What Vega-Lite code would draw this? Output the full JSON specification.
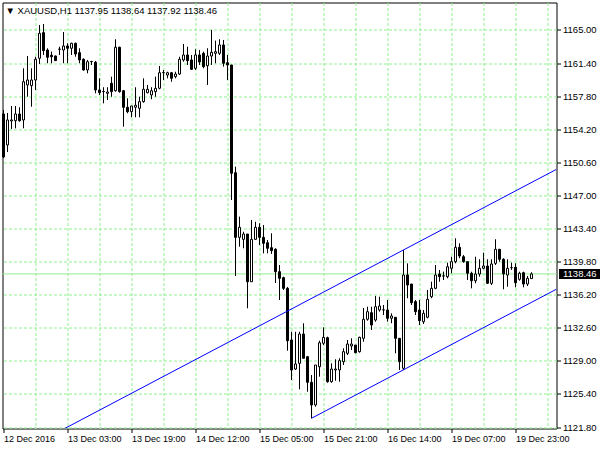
{
"$schema": "https://vega.github.io/schema/vega-lite/v6.json",
"width": 554, "height": 426,
"autosize": {"type": "none"},
"padding": {"left": 2.5, "top": 2.5, "right": 43.5, "bottom": 21.5},
"background": "white",
"title": {"text": "▼  XAUUSD,H1 1137.95 1138.64 1137.92 1138.46", "anchor": "start", "frame": "group", "orient": "top", "baseline": "top", "offset": -13, "dx": 3, "font": "Liberation Sans", "fontSize": 9.5, "fontWeight": "normal", "color": "black"},
"datasets": {
"candles": [
{"i":0,"o":1155.86,"h":1156.29,"l":1151.07,"c":1151.18},
{"i":1,"o":1152.49,"h":1155.97,"l":1151.72,"c":1155.21},
{"i":2,"o":1155.10,"h":1156.73,"l":1154.23,"c":1155.21},
{"i":3,"o":1155.13,"h":1156.73,"l":1154.30,"c":1155.86},
{"i":4,"o":1155.86,"h":1156.59,"l":1155.02,"c":1155.13},
{"i":5,"o":1155.21,"h":1160.83,"l":1154.30,"c":1159.37},
{"i":6,"o":1159.02,"h":1162.17,"l":1157.74,"c":1159.56},
{"i":7,"o":1158.94,"h":1160.83,"l":1156.65,"c":1159.56},
{"i":8,"o":1159.56,"h":1162.09,"l":1158.47,"c":1161.81},
{"i":9,"o":1161.92,"h":1165.54,"l":1161.30,"c":1164.64},
{"i":10,"o":1164.71,"h":1165.65,"l":1162.28,"c":1162.75},
{"i":11,"o":1162.82,"h":1163.01,"l":1161.38,"c":1162.03},
{"i":12,"o":1162.25,"h":1162.64,"l":1161.38,"c":1162.09},
{"i":13,"o":1162.17,"h":1162.22,"l":1161.63,"c":1161.66},
{"i":14,"o":1162.90,"h":1163.18,"l":1162.28,"c":1162.92},
{"i":15,"o":1162.82,"h":1164.78,"l":1161.38,"c":1163.26},
{"i":16,"o":1163.26,"h":1163.55,"l":1161.38,"c":1163.01},
{"i":17,"o":1163.01,"h":1163.62,"l":1162.28,"c":1163.55},
{"i":18,"o":1163.55,"h":1163.62,"l":1162.09,"c":1162.39},
{"i":19,"o":1162.53,"h":1163.01,"l":1161.38,"c":1161.74},
{"i":20,"o":1161.81,"h":1161.92,"l":1160.57,"c":1160.65},
{"i":21,"o":1160.65,"h":1161.74,"l":1160.29,"c":1161.55},
{"i":22,"o":1161.55,"h":1161.63,"l":1161.19,"c":1161.58},
{"i":23,"o":1161.49,"h":1161.63,"l":1158.11,"c":1158.47},
{"i":24,"o":1158.47,"h":1159.74,"l":1157.93,"c":1158.18},
{"i":25,"o":1158.29,"h":1158.77,"l":1157.02,"c":1158.31},
{"i":26,"o":1158.11,"h":1158.77,"l":1157.38,"c":1158.25},
{"i":27,"o":1159.20,"h":1159.92,"l":1157.74,"c":1158.29},
{"i":28,"o":1158.39,"h":1163.99,"l":1158.29,"c":1163.12},
{"i":29,"o":1163.12,"h":1163.18,"l":1158.18,"c":1158.29},
{"i":30,"o":1158.39,"h":1158.47,"l":1154.48,"c":1156.59},
{"i":31,"o":1156.59,"h":1157.57,"l":1155.94,"c":1156.11},
{"i":32,"o":1156.11,"h":1156.73,"l":1155.50,"c":1156.73},
{"i":33,"o":1156.59,"h":1158.77,"l":1155.50,"c":1156.81},
{"i":34,"o":1156.48,"h":1157.74,"l":1155.50,"c":1157.20},
{"i":35,"o":1157.20,"h":1159.74,"l":1157.09,"c":1158.55},
{"i":36,"o":1158.18,"h":1159.02,"l":1158.11,"c":1158.55},
{"i":37,"o":1157.93,"h":1158.77,"l":1157.46,"c":1158.39},
{"i":38,"o":1158.29,"h":1159.92,"l":1157.74,"c":1158.66},
{"i":39,"o":1158.66,"h":1161.08,"l":1158.55,"c":1160.35},
{"i":40,"o":1160.35,"h":1160.65,"l":1159.56,"c":1160.37},
{"i":41,"o":1160.10,"h":1160.46,"l":1159.74,"c":1160.35},
{"i":42,"o":1160.35,"h":1160.43,"l":1159.37,"c":1159.74},
{"i":43,"o":1159.92,"h":1160.46,"l":1159.74,"c":1160.21},
{"i":44,"o":1160.21,"h":1162.09,"l":1160.10,"c":1161.81},
{"i":45,"o":1161.74,"h":1163.48,"l":1161.55,"c":1162.28},
{"i":46,"o":1162.28,"h":1163.18,"l":1161.19,"c":1161.66},
{"i":47,"o":1161.74,"h":1162.28,"l":1160.65,"c":1160.72},
{"i":48,"o":1160.83,"h":1162.90,"l":1160.65,"c":1162.28},
{"i":49,"o":1162.28,"h":1162.82,"l":1161.19,"c":1161.52},
{"i":50,"o":1162.46,"h":1162.64,"l":1160.83,"c":1161.01},
{"i":51,"o":1161.11,"h":1163.01,"l":1159.02,"c":1162.17},
{"i":52,"o":1162.17,"h":1165.00,"l":1161.19,"c":1162.57},
{"i":53,"o":1162.46,"h":1163.84,"l":1161.38,"c":1162.64},
{"i":54,"o":1162.46,"h":1163.99,"l":1162.28,"c":1163.37},
{"i":55,"o":1163.37,"h":1163.91,"l":1161.01,"c":1161.38},
{"i":56,"o":1161.44,"h":1162.28,"l":1159.56,"c":1161.19},
{"i":57,"o":1161.19,"h":1161.19,"l":1146.50,"c":1149.41},
{"i":58,"o":1149.47,"h":1150.13,"l":1138.23,"c":1142.44},
{"i":59,"o":1142.44,"h":1144.69,"l":1141.42,"c":1143.53},
{"i":60,"o":1142.22,"h":1143.05,"l":1141.25,"c":1142.80},
{"i":61,"o":1142.80,"h":1142.80,"l":1134.72,"c":1137.61},
{"i":62,"o":1137.61,"h":1144.33,"l":1137.61,"c":1142.22},
{"i":63,"o":1142.22,"h":1144.14,"l":1142.15,"c":1143.53},
{"i":64,"o":1143.53,"h":1143.97,"l":1141.61,"c":1142.44},
{"i":65,"o":1142.44,"h":1143.78,"l":1140.70,"c":1141.79},
{"i":66,"o":1141.85,"h":1142.15,"l":1140.70,"c":1141.25},
{"i":67,"o":1141.31,"h":1142.88,"l":1140.63,"c":1140.99},
{"i":68,"o":1141.14,"h":1141.25,"l":1137.47,"c":1138.70},
{"i":69,"o":1138.70,"h":1139.43,"l":1135.62,"c":1137.98},
{"i":70,"o":1138.05,"h":1138.16,"l":1136.71,"c":1136.89},
{"i":71,"o":1136.89,"h":1137.04,"l":1130.10,"c":1131.19},
{"i":72,"o":1131.27,"h":1132.17,"l":1126.92,"c":1128.01},
{"i":73,"o":1128.11,"h":1132.17,"l":1128.01,"c":1128.66},
{"i":74,"o":1128.73,"h":1132.17,"l":1125.90,"c":1131.92},
{"i":75,"o":1131.92,"h":1133.09,"l":1129.28,"c":1129.28},
{"i":76,"o":1129.45,"h":1129.53,"l":1125.64,"c":1126.67},
{"i":77,"o":1126.67,"h":1127.46,"l":1122.75,"c":1124.20},
{"i":78,"o":1124.20,"h":1128.55,"l":1124.01,"c":1128.55},
{"i":79,"o":1128.36,"h":1131.19,"l":1127.28,"c":1130.97},
{"i":80,"o":1130.91,"h":1132.65,"l":1130.72,"c":1131.56},
{"i":81,"o":1131.52,"h":1131.63,"l":1126.62,"c":1126.73},
{"i":82,"o":1126.73,"h":1128.73,"l":1126.62,"c":1128.11},
{"i":83,"o":1128.01,"h":1129.17,"l":1126.84,"c":1128.11},
{"i":84,"o":1128.01,"h":1129.28,"l":1126.73,"c":1129.02},
{"i":85,"o":1128.91,"h":1130.37,"l":1128.55,"c":1130.00},
{"i":86,"o":1129.82,"h":1131.27,"l":1129.63,"c":1130.83},
{"i":87,"o":1130.62,"h":1131.45,"l":1130.18,"c":1130.83},
{"i":88,"o":1130.72,"h":1130.72,"l":1129.82,"c":1129.89},
{"i":89,"o":1130.00,"h":1131.63,"l":1129.89,"c":1131.56},
{"i":90,"o":1131.45,"h":1134.75,"l":1131.08,"c":1133.52},
{"i":91,"o":1133.52,"h":1134.89,"l":1133.37,"c":1134.35},
{"i":92,"o":1134.24,"h":1134.89,"l":1132.36,"c":1132.90},
{"i":93,"o":1133.44,"h":1136.06,"l":1133.26,"c":1134.89},
{"i":94,"o":1134.53,"h":1135.98,"l":1134.35,"c":1134.97},
{"i":95,"o":1134.53,"h":1135.08,"l":1133.99,"c":1134.55},
{"i":96,"o":1134.53,"h":1135.62,"l":1133.26,"c":1133.63},
{"i":97,"o":1133.63,"h":1134.17,"l":1133.09,"c":1133.88},
{"i":98,"o":1133.74,"h":1133.74,"l":1129.82,"c":1131.45},
{"i":99,"o":1131.45,"h":1131.45,"l":1128.01,"c":1128.91},
{"i":100,"o":1128.19,"h":1141.06,"l":1128.01,"c":1138.34},
{"i":101,"o":1138.34,"h":1139.61,"l":1135.81,"c":1137.25},
{"i":102,"o":1137.36,"h":1137.36,"l":1135.08,"c":1135.33},
{"i":103,"o":1135.44,"h":1135.62,"l":1133.99,"c":1134.35},
{"i":104,"o":1134.53,"h":1135.62,"l":1132.90,"c":1133.37},
{"i":105,"o":1133.26,"h":1134.53,"l":1133.01,"c":1134.17},
{"i":106,"o":1133.74,"h":1136.71,"l":1133.63,"c":1135.70},
{"i":107,"o":1135.98,"h":1137.61,"l":1135.81,"c":1136.89},
{"i":108,"o":1136.89,"h":1139.43,"l":1136.79,"c":1138.34},
{"i":109,"o":1138.45,"h":1138.89,"l":1137.61,"c":1138.16},
{"i":110,"o":1138.23,"h":1138.70,"l":1137.80,"c":1138.25},
{"i":111,"o":1138.16,"h":1139.68,"l":1137.98,"c":1139.24},
{"i":112,"o":1139.07,"h":1140.33,"l":1138.53,"c":1139.79},
{"i":113,"o":1139.79,"h":1142.33,"l":1139.61,"c":1141.35},
{"i":114,"o":1141.35,"h":1141.79,"l":1140.16,"c":1140.41},
{"i":115,"o":1140.33,"h":1140.52,"l":1139.68,"c":1139.79},
{"i":116,"o":1139.79,"h":1139.79,"l":1137.80,"c":1138.53},
{"i":117,"o":1138.53,"h":1138.70,"l":1136.89,"c":1137.72},
{"i":118,"o":1137.72,"h":1140.33,"l":1137.44,"c":1138.45},
{"i":119,"o":1138.45,"h":1140.05,"l":1138.16,"c":1139.07},
{"i":120,"o":1139.07,"h":1140.77,"l":1138.96,"c":1139.32},
{"i":121,"o":1139.32,"h":1140.05,"l":1137.36,"c":1137.44},
{"i":122,"o":1137.44,"h":1140.05,"l":1137.25,"c":1139.54},
{"i":123,"o":1139.61,"h":1142.23,"l":1139.43,"c":1141.14},
{"i":124,"o":1141.14,"h":1141.14,"l":1139.79,"c":1140.05},
{"i":125,"o":1140.05,"h":1140.16,"l":1136.79,"c":1138.45},
{"i":126,"o":1138.34,"h":1140.05,"l":1137.07,"c":1139.07},
{"i":127,"o":1139.13,"h":1139.68,"l":1138.89,"c":1139.15},
{"i":128,"o":1139.18,"h":1139.61,"l":1137.00,"c":1137.50},
{"i":129,"o":1137.87,"h":1138.70,"l":1137.72,"c":1138.53},
{"i":130,"o":1138.59,"h":1138.70,"l":1137.00,"c":1137.36},
{"i":131,"o":1137.36,"h":1138.23,"l":1137.14,"c":1137.98},
{"i":132,"o":1137.95,"h":1138.64,"l":1137.92,"c":1138.46}
],
"channel": [
{"line":"upper","i":15.3,"p":1121.64},
{"line":"upper","i":138.25,"p":1149.84},
{"line":"lower","i":77,"p":1122.75},
{"line":"lower","i":138.25,"p":1136.80}
],
"last": [{"price": 1138.46, "label": "1138.46"}]
},
"layer": [
{
"data": {"name": "candles"},
"mark": {"type": "rule", "color": "black", "strokeWidth": 1, "opacity": 0},
"encoding": {
"x": {"field": "i", "type": "quantitative",
"scale": {"domain": [-0.25, 138.25], "nice": false, "zero": false, "padding": 0},
"axis": {"orient": "bottom", "values": [8,16,24,32,40,48,56,64,72,80,88,96,104,112,120,128,136], "grid": true, "gridColor": "#90EE90", "gridDash": [3,2], "gridWidth": 1, "gridOpacity": 1, "labels": false, "ticks": false, "domain": false, "title": null}},
"y": {"field": "l", "type": "quantitative", "scale": {"domain": [1121.64, 1167.99], "nice": false, "zero": false, "padding": 0},
"axis": {"orient": "right", "values": [1121.8,1125.4,1129.0,1132.6,1136.2,1139.8,1143.4,1147.0,1150.6,1154.2,1157.8,1161.4,1165.0], "format": ".2f", "grid": true, "gridColor": "#90EE90", "gridDash": [3,2], "gridWidth": 1, "gridOpacity": 1, "tickColor": "black", "tickSize": 4, "tickWidth": 1, "labelFont": "Liberation Sans", "labelFontSize": 9.5, "labelColor": "black", "labelPadding": 2, "labelAlign": "left", "labelOverlap": false, "labelFlush": false, "labelBound": false, "domain": false, "title": null}},
"y2": {"field": "h"}
}
},
{
"data": {"name": "last"},
"mark": {"type": "rule", "color": "#90EE90", "strokeWidth": 1},
"encoding": {
"y": {"field": "price", "type": "quantitative", "scale": {"domain": [1121.64, 1167.99], "nice": false, "zero": false, "padding": 0}, "axis": null}
}
},
{
"data": {"name": "candles"},
"mark": {"type": "rule", "color": "black", "strokeWidth": 1},
"encoding": {
"x": {"field": "i", "type": "quantitative", "scale": {"domain": [-0.25, 138.25], "nice": false, "zero": false, "padding": 0}, "axis": null},
"y": {"field": "l", "type": "quantitative", "scale": {"domain": [1121.64, 1167.99], "nice": false, "zero": false, "padding": 0}, "axis": null},
"y2": {"field": "h"}
}
},
{
"data": {"name": "candles"},
"mark": {"type": "bar", "width": 2, "stroke": "black", "strokeWidth": 1},
"encoding": {
"x": {"field": "i", "type": "quantitative",
"scale": {"domain": [-0.25, 138.25], "nice": false, "zero": false, "padding": 0},
"axis": {"orient": "bottom", "values": [0,16,32,48,64,80,96,112,128], "grid": false, "labelExpr": "['12 Dec 2016','13 Dec 03:00','13 Dec 19:00','14 Dec 12:00','15 Dec 05:00','15 Dec 21:00','16 Dec 14:00','19 Dec 07:00','19 Dec 23:00'][round(datum.value/16)]", "labelAlign": "left", "labelFlush": false, "labelOverlap": false, "labelBound": false, "tickSize": 4, "tickColor": "black", "tickWidth": 1, "labelPadding": 2, "labelFont": "Liberation Sans", "labelFontSize": 9, "labelColor": "black", "domain": false, "title": null}},
"y": {"field": "o", "type": "quantitative", "scale": {"domain": [1121.64, 1167.99], "nice": false, "zero": false, "padding": 0}, "axis": null},
"y2": {"field": "c"},
"fill": {"condition": {"test": "datum.c >= datum.o", "value": "white"}, "value": "black"}
}
},
{
"data": {"name": "channel"},
"mark": {"type": "line", "color": "#0000FF", "strokeWidth": 1, "clip": true},
"encoding": {
"x": {"field": "i", "type": "quantitative", "scale": {"domain": [-0.25, 138.25], "nice": false, "zero": false, "padding": 0}, "axis": null},
"y": {"field": "p", "type": "quantitative", "scale": {"domain": [1121.64, 1167.99], "nice": false, "zero": false, "padding": 0}, "axis": null},
"detail": {"field": "line"}
}
},
{
"data": {"name": "last"},
"mark": {"type": "rect", "color": "black", "clip": false},
"encoding": {
"x": {"datum": 138.875, "type": "quantitative", "scale": {"domain": [-0.25, 138.25], "nice": false, "zero": false, "padding": 0}, "axis": null},
"x2": {"datum": 149.2},
"y": {"datum": 1138.99, "type": "quantitative", "scale": {"domain": [1121.64, 1167.99], "nice": false, "zero": false, "padding": 0}, "axis": null},
"y2": {"datum": 1137.90}
}
},
{
"data": {"name": "last"},
"mark": {"type": "text", "align": "left", "baseline": "middle", "color": "white", "font": "Liberation Sans", "fontSize": 9.5, "clip": false},
"encoding": {
"x": {"datum": 139.875, "type": "quantitative", "scale": {"domain": [-0.25, 138.25], "nice": false, "zero": false, "padding": 0}, "axis": null},
"y": {"field": "price", "type": "quantitative", "scale": {"domain": [1121.64, 1167.99], "nice": false, "zero": false, "padding": 0}, "axis": null},
"text": {"field": "label"}
}
}
],
"resolve": {"axis": {"x": "independent", "y": "independent"}},
"config": {"view": {"stroke": "black", "strokeWidth": 1}}
}
